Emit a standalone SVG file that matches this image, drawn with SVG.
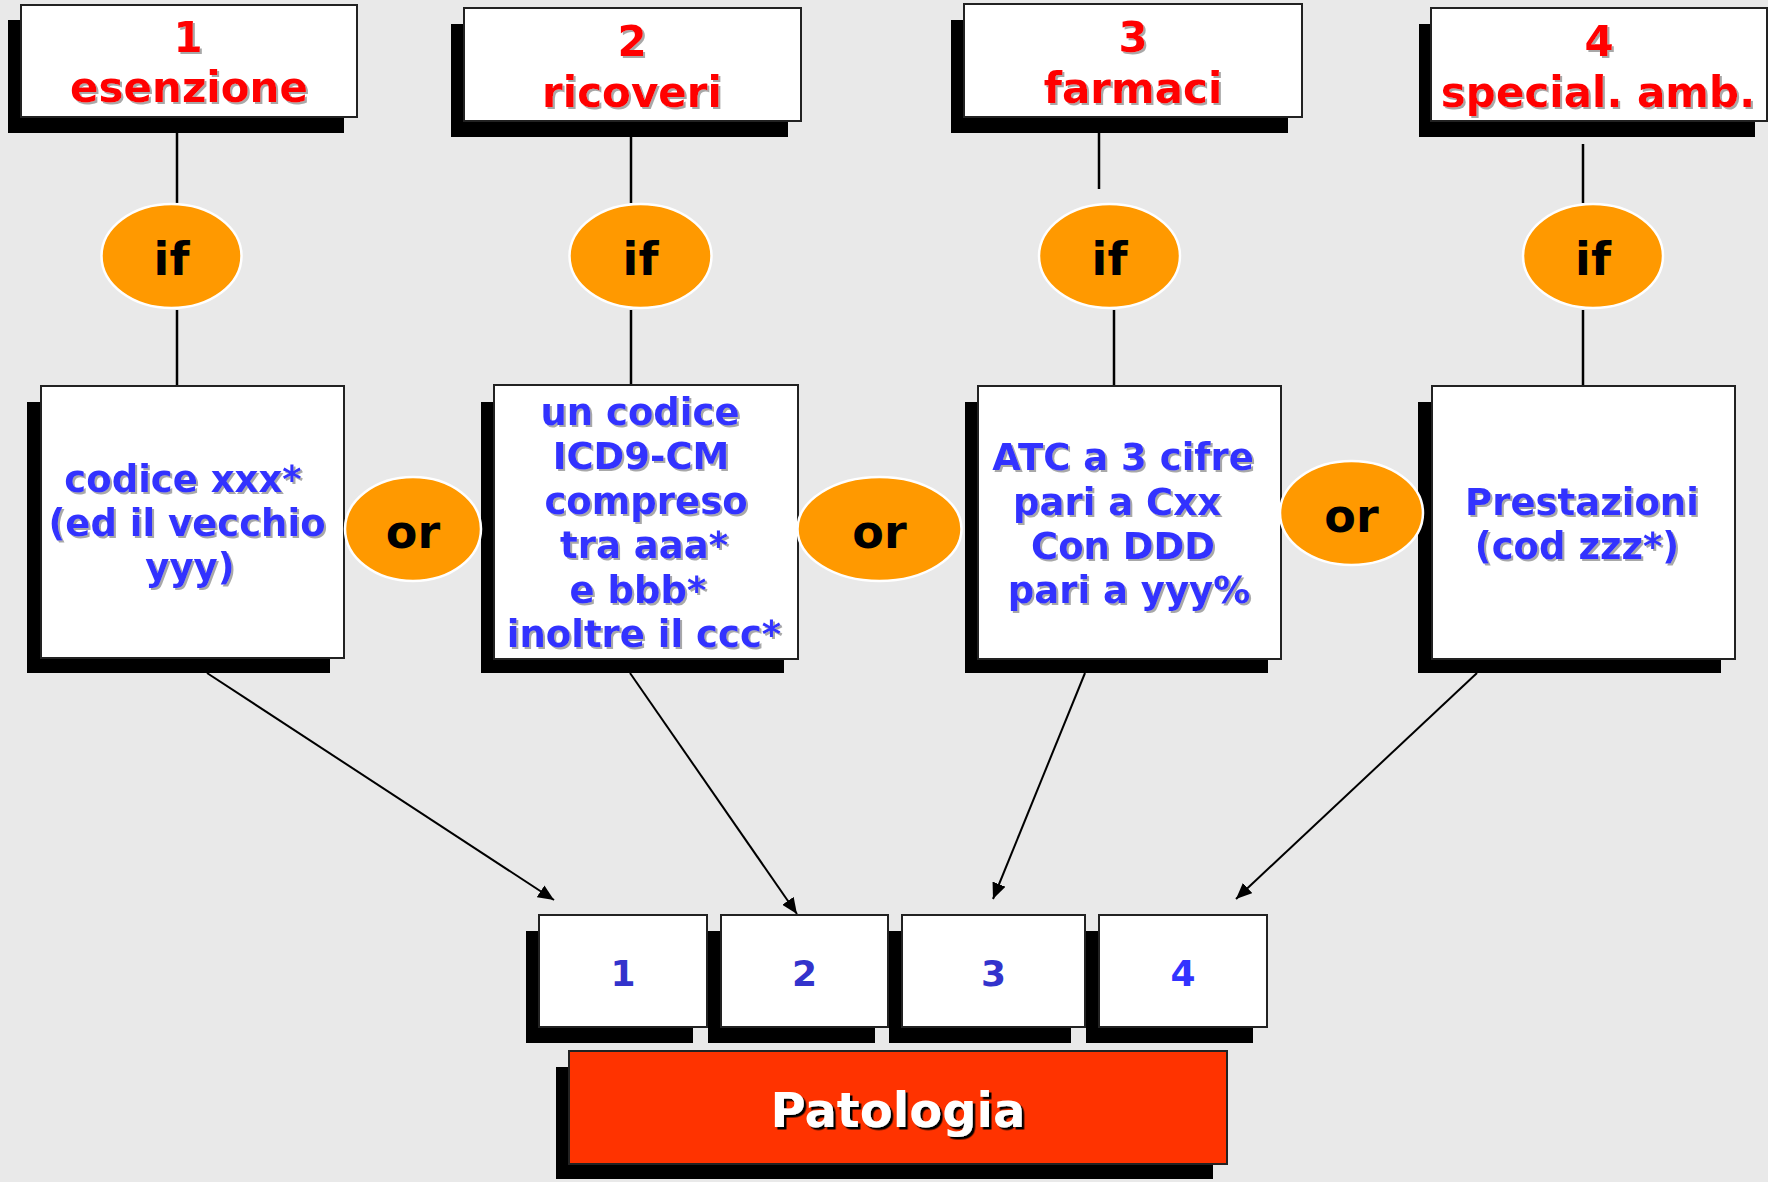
<svg xmlns="http://www.w3.org/2000/svg" width="1768" height="1182" viewBox="0 0 1768 1182">
<defs>
<style>
.bg{fill:#e9e9e9}
.sh{fill:#000}
.box{fill:#fff;stroke:#222;stroke-width:2}
.red{fill:#ff3300;stroke:#222;stroke-width:2}
.ell{fill:#ff9900;stroke:#fff;stroke-width:2.5}
.t{font-family:"DejaVu Sans","Verdana",sans-serif;font-weight:bold;text-anchor:middle}
.title{font-size:42px;fill:#ff0000;filter:url(#ts)}
.mid{font-size:37px;fill:#3333ff;filter:url(#ts)}
.op{font-size:46px;fill:#000}
.dig{font-size:36px;fill:#3333cc}
.pat{font-size:48px;fill:#fff;filter:url(#tsd)}
.ln{stroke:#000;stroke-width:2.5;fill:none}
.ar{stroke:#000;stroke-width:2;fill:none;marker-end:url(#ah)}
</style>
<filter id="ts" x="-10%" y="-20%" width="120%" height="150%">
<feDropShadow dx="2" dy="2" stdDeviation="0.4" flood-color="#a8a8a8" flood-opacity="1"/>
</filter>
<filter id="tsd" x="-10%" y="-20%" width="120%" height="150%">
<feDropShadow dx="2.5" dy="2.5" stdDeviation="0.3" flood-color="#000" flood-opacity="1"/>
</filter>
<marker id="ah" markerWidth="18" markerHeight="14" refX="16" refY="7" orient="auto" markerUnits="userSpaceOnUse">
<path d="M0,0 L16,7 L0,14 z" fill="#000"/>
</marker>
</defs>
<rect class="bg" x="0" y="0" width="1768" height="1182"/>

<g id="connectors">
<line class="ln" x1="177" y1="133" x2="177" y2="203"/>
<line class="ln" x1="177" y1="310" x2="177" y2="386"/>
<line class="ln" x1="631" y1="137" x2="631" y2="203"/>
<line class="ln" x1="631" y1="310" x2="631" y2="385"/>
<line class="ln" x1="1099" y1="133" x2="1099" y2="189"/>
<line class="ln" x1="1114" y1="310" x2="1114" y2="386"/>
<line class="ln" x1="1583" y1="144" x2="1583" y2="203"/>
<line class="ln" x1="1583" y1="310" x2="1583" y2="386"/>
<line class="ar" x1="207" y1="673" x2="554" y2="900"/>
<line class="ar" x1="630" y1="673" x2="797" y2="914"/>
<line class="ar" x1="1085" y1="673" x2="993" y2="899"/>
<line class="ar" x1="1477" y1="673" x2="1236" y2="899"/>
</g>

<g id="top1">
<rect class="sh" x="8" y="20" width="336" height="113"/>
<rect class="box" x="21" y="5" width="336" height="112"/>
<text class="t title" x="188" y="52">1</text>
<text class="t title" x="189" y="102">esenzione</text>
</g>
<g id="top2">
<rect class="sh" x="451" y="24" width="337" height="113"/>
<rect class="box" x="464" y="8" width="337" height="113"/>
<text class="t title" x="632" y="56">2</text>
<text class="t title" x="632" y="107">ricoveri</text>
</g>
<g id="top3">
<rect class="sh" x="951" y="20" width="337" height="113"/>
<rect class="box" x="964" y="4" width="338" height="113"/>
<text class="t title" x="1133" y="52">3</text>
<text class="t title" x="1133" y="103">farmaci</text>
</g>
<g id="top4">
<rect class="sh" x="1419" y="24" width="336" height="113"/>
<rect class="box" x="1431" y="8" width="336" height="113"/>
<text class="t title" x="1599" y="56">4</text>
<text class="t title" x="1598" y="107">special. amb.</text>
</g>

<g id="if1"><ellipse class="ell" cx="171.5" cy="256" rx="70" ry="52"/><text class="t op" x="171.5" y="275">if</text></g>
<g id="if2"><ellipse class="ell" cx="640.5" cy="256" rx="71" ry="52"/><text class="t op" x="640.5" y="275">if</text></g>
<g id="if3"><ellipse class="ell" cx="1109.5" cy="256" rx="70.5" ry="52"/><text class="t op" x="1109.5" y="275">if</text></g>
<g id="if4"><ellipse class="ell" cx="1593" cy="256" rx="70" ry="52"/><text class="t op" x="1593" y="275">if</text></g>

<g id="mid1">
<rect class="sh" x="27" y="402" width="303" height="271"/>
<rect class="box" x="41" y="386" width="303" height="272"/>
<text class="t mid" x="183" y="492">codice xxx*</text>
<text class="t mid" x="187" y="536">(ed il vecchio</text>
<text class="t mid" x="190" y="580">yyy)</text>
</g>
<g id="mid2">
<rect class="sh" x="481" y="402" width="303" height="271"/>
<rect class="box" x="494" y="385" width="304" height="274"/>
<text class="t mid" x="640" y="425">un codice</text>
<text class="t mid" x="641" y="469">ICD9-CM</text>
<text class="t mid" x="646" y="514">compreso</text>
<text class="t mid" x="644" y="558">tra aaa*</text>
<text class="t mid" x="638" y="603">e bbb*</text>
<text class="t mid" x="644" y="647">inoltre il ccc*</text>
</g>
<g id="mid3">
<rect class="sh" x="965" y="402" width="303" height="271"/>
<rect class="box" x="978" y="386" width="303" height="273"/>
<text class="t mid" x="1123" y="470">ATC a 3 cifre</text>
<text class="t mid" x="1117" y="515">pari a Cxx</text>
<text class="t mid" x="1123" y="559">Con DDD</text>
<text class="t mid" x="1129" y="603">pari a yyy%</text>
</g>
<g id="mid4">
<rect class="sh" x="1418" y="402" width="303" height="271"/>
<rect class="box" x="1432" y="386" width="303" height="273"/>
<text class="t mid" x="1582" y="515">Prestazioni</text>
<text class="t mid" x="1577" y="559">(cod zzz*)</text>
</g>

<g id="or1"><ellipse class="ell" cx="413" cy="529" rx="68" ry="52"/><text class="t op" x="413" y="548">or</text></g>
<g id="or2"><ellipse class="ell" cx="879.5" cy="529" rx="82" ry="52"/><text class="t op" x="879.5" y="548">or</text></g>
<g id="or3"><ellipse class="ell" cx="1351.5" cy="513" rx="71.5" ry="52"/><text class="t op" x="1351.5" y="532">or</text></g>

<g id="out1">
<rect class="sh" x="526" y="931" width="167" height="112"/>
<rect class="box" x="539" y="915" width="168" height="112"/>
<text class="t dig" x="623" y="986">1</text>
</g>
<g id="out2">
<rect class="sh" x="708" y="931" width="167" height="112"/>
<rect class="box" x="721" y="915" width="167" height="112"/>
<text class="t dig" x="804.5" y="986">2</text>
</g>
<g id="out3">
<rect class="sh" x="889" y="931" width="182" height="112"/>
<rect class="box" x="902" y="915" width="183" height="112"/>
<text class="t dig" x="993.5" y="986">3</text>
</g>
<g id="out4">
<rect class="sh" x="1086" y="931" width="167" height="112"/>
<rect class="box" x="1099" y="915" width="168" height="112"/>
<text class="t dig" x="1183" y="986" style="fill:#3333ff">4</text>
</g>

<g id="patologia">
<rect class="sh" x="556" y="1067" width="657" height="112"/>
<rect class="red" x="569" y="1051" width="658" height="113"/>
<text class="t pat" x="898" y="1127">Patologia</text>
</g>
</svg>
